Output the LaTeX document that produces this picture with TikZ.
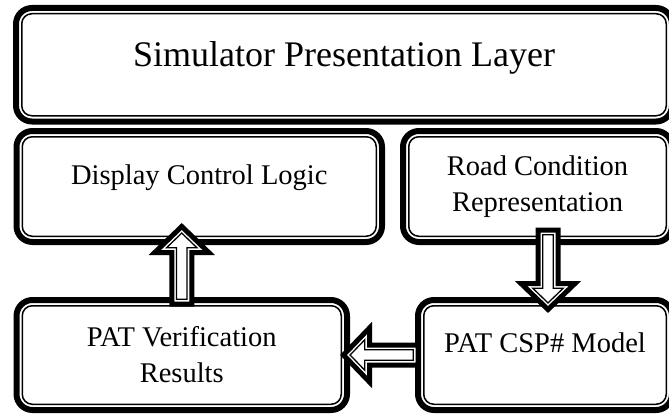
\documentclass[tikz,border=0pt]{standalone}
\usepackage{fontspec}
\setmainfont{Liberation Serif}
\usetikzlibrary{calc}
\tikzset{
  layer/.style={draw,line width=6pt,rounded corners=16pt,outer sep=0pt,inner sep=0pt,
    align=center,font=\fontsize{28.5}{36}\selectfont},
  inset/.style={line width=1.5pt,rounded corners=10pt},
  fatline/.style={draw,fill=white,line width=5pt,line join=miter},
  thinline/.style={draw,line width=1.3pt,line join=miter}
}
% hollow block arrow: style, tail, tip, shaft half width, head half width, head length
\newcommand\fatshape[6]{%
  \coordinate (fs-b) at ($(#3)!#6!(#2)$);
  \draw[#1]($(#2)!#4!90:(#3)$)--($(fs-b)!#4!90:(#3)$)--($(fs-b)!#5!90:(#3)$)--(#3)
    --($(fs-b)!#5!-90:(#3)$)--($(fs-b)!#4!-90:(#3)$)--($(#2)!#4!-90:(#3)$)--cycle;}
\newcommand\fatarrow[2]{%
  \coordinate (fa-s) at (#1);
  \coordinate (fa-t) at (#2);
  \fatshape{fatline}{fa-s}{fa-t}{10pt}{27pt}{26pt}
  \coordinate (fa-s2) at ($(fa-s)!4.75pt!(fa-t)$);
  \coordinate (fa-t2) at ($(fa-t)!6.6pt!(fa-s)$);
  \fatshape{thinline}{fa-s2}{fa-t2}{5.25pt}{15.2pt}{14.65pt}}

\begin{document}
\begin{tikzpicture}[x=1pt,y=1pt]
\useasboundingbox(0,0)rectangle(669,416);
\node[layer,minimum width=656pt,minimum height=113.5pt,text depth=21pt,
  font=\fontsize{36}{42}\selectfont](spl)at(344,351.25){Simulator Presentation Layer};
\node[layer,minimum width=365.5pt,minimum height=111pt,text depth=23.6pt](dcl)at(199.25,229.5){Display Control Logic};
\node[layer,minimum width=269pt,minimum height=111pt](rcr)at(537.5,229.5){Road Condition\\Representation};
\node[layer,minimum width=330.5pt,minimum height=110pt](ver)at(181.75,61){PAT Verification\\Results};
\node[layer,minimum width=254pt,minimum height=110pt,text depth=25.6pt](csp)at(545,61){PAT CSP\# Model};
\foreach \n in {spl,dcl,rcr,ver,csp}
  \draw[inset]($(\n.south west)+(5.75,5.75)$)rectangle($(\n.north east)-(5.75,5.75)$);
% arrows between the layers
\fatarrow{$(ver.north)+(0,-4)$}{$(ver.north |- dcl.south)+(0,15.5)$}
\fatarrow{$(csp.north |- rcr.south)+(3,12)$}{$(csp.north)+(3,-9.5)$}
\fatarrow{csp.west}{$(ver.east |- csp.west)+(-3.5,0)$}
\end{tikzpicture}
\end{document}
